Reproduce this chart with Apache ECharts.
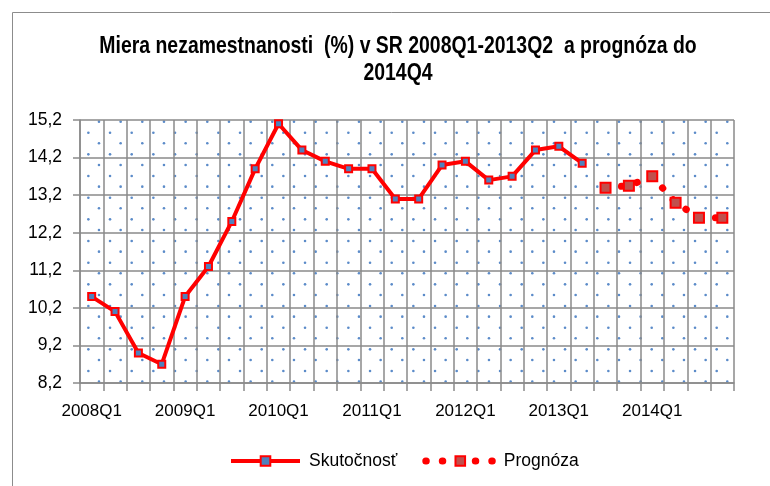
<!DOCTYPE html>
<html>
<head>
<meta charset="utf-8">
<script src="https://cdn.jsdelivr.net/npm/echarts@6/dist/echarts.min.js"></script>
<style>
    html, body {margin: 0; padding: 0; background: #fff;}
    #chart {width: 770px; height: 486px;}
</style>
</head>
<body>
<div id="chart"></div>
<script>
// štvrťroky 2008Q1 - 2014Q4
var quarters = ['2008Q1', '2008Q2', '2008Q3', '2008Q4', '2009Q1', '2009Q2', '2009Q3', '2009Q4',
    '2010Q1', '2010Q2', '2010Q3', '2010Q4', '2011Q1', '2011Q2', '2011Q3', '2011Q4',
    '2012Q1', '2012Q2', '2012Q3', '2012Q4', '2013Q1', '2013Q2', '2013Q3', '2013Q4',
    '2014Q1', '2014Q2', '2014Q3', '2014Q4'];

// skutočnosť 2008Q1 - 2013Q2
var actual = [10.5, 10.1, 9.0, 8.7, 10.5, 11.3, 12.5, 13.9,
    15.1, 14.4, 14.1, 13.9, 13.9, 13.1, 13.1, 14.0,
    14.1, 13.6, 13.7, 14.4, 14.5, 14.05];

// prognóza 2013Q3 - 2014Q4
var forecast = [13.4, 13.45, 13.7, 13.0, 12.6, 12.6];

var yTicks = [8.2, 9.2, 10.2, 11.2, 12.2, 13.2, 14.2, 15.2];

var titleText = 'Miera nezamestnanosti  (%) v SR 2008Q1-2013Q2  a prognóza do\n2014Q4';

var font = "'Liberation Sans Narrow', 'Arial Narrow', 'Liberation Sans', Arial, sans-serif";

var actualData = [], forecastData = [];
var offset = quarters.length - forecast.length;
for (var i = 0; i < quarters.length; i++) {
    actualData.push(i < actual.length ? actual[i] : '-');
    forecastData.push(i >= offset ? forecast[i - offset] : '-');
}

// bodkovaný vzor pozadia
function dotPattern() {
    var c = document.createElement('canvas');
    c.width = 65;
    c.height = 65;
    var ctx = c.getContext('2d');
    var step = 65 / 3;
    ctx.fillStyle = '#5b8bc9';
    for (var a = 0; a < 3; a++) {
        for (var b = 0; b < 3; b++) {
            ctx.beginPath();
            ctx.arc(1.7 + a * step, 2.7 + b * step, 1.3, 0, Math.PI * 2);
            ctx.fill();
            ctx.beginPath();
            ctx.arc(12.3 + a * step, 13.3 + b * step, 1.3, 0, Math.PI * 2);
            ctx.fill();
        }
    }
    return c;
}

(function () {
    var chart = echarts.init(document.getElementById('chart'));

    var option = {
        backgroundColor: '#fff',
        animation: false,
        graphic: [
            {
                type: 'rect',
                shape: {x: 12.5, y: 12.5, width: 800, height: 600},
                style: {fill: null, stroke: '#8c8c8c', lineWidth: 1},
                silent: true
            },
            {
                // nadpis - zúžené písmo
                type: 'text',
                x: 398,
                y: 33,
                scaleX: 0.81,
                style: {
                    text: titleText,
                    fill: '#000',
                    font: 'bold 24px ' + font,
                    lineHeight: 27,
                    align: 'center',
                    verticalAlign: 'top'
                },
                silent: true
            }
        ],
        legend: {
            left: 229,
            top: 452,
            padding: 0,
            itemWidth: 69,
            itemHeight: 12,
            itemGap: 25,
            textStyle: {fontFamily: font, fontSize: 17.5, color: '#000', padding: [0, 0, 0, 4]},
            data: [
                {name: 'Skutočnosť', lineStyle: {width: 4}},
                {name: 'Prognóza', lineStyle: {width: 7, type: [0.5, 16], cap: 'round'}}
            ]
        },
        grid: {
            left: 80,
            top: 120,
            right: 36,
            bottom: 103,
            show: true,
            borderWidth: 0,
            backgroundColor: {image: dotPattern(), repeat: 'repeat'}
        },
        xAxis: {
            type: 'category',
            data: quarters,
            boundaryGap: true,
            axisLine: {lineStyle: {color: '#8a8a8a', width: 1.5}},
            axisTick: {show: true, interval: 0, length: 8, lineStyle: {color: '#8a8a8a', width: 1.5}},
            splitLine: {show: true, interval: 0, lineStyle: {color: '#8a8a8a', width: 1.5}},
            axisLabel: {
                interval: 3,
                margin: 20,
                fontFamily: font,
                fontSize: 17,
                color: '#000'
            }
        },
        yAxis: {
            type: 'value',
            min: 8.2,
            max: 15.2,
            interval: 1,
            axisLine: {show: true, lineStyle: {color: '#8a8a8a', width: 1.5}},
            axisTick: {show: true, length: 7, customValues: yTicks, lineStyle: {color: '#8a8a8a', width: 1.5}},
            splitLine: {show: true, lineStyle: {color: '#8a8a8a', width: 1.5}},
            axisLabel: {
                customValues: yTicks,
                margin: 18,
                fontFamily: font,
                fontSize: 17.5,
                color: '#000',
                formatter: function (v) {
                    return v.toFixed(1).replace('.', ',');
                }
            }
        },
        series: [
            {
                name: 'Skutočnosť',
                type: 'line',
                data: actualData,
                symbol: 'rect',
                symbolSize: 7,
                lineStyle: {color: '#ff0000', width: 4},
                itemStyle: {color: '#4f81bd', borderColor: '#ff0000', borderWidth: 2}
            },
            {
                name: 'Prognóza',
                type: 'line',
                data: forecastData,
                symbol: 'rect',
                symbolSize: 10,
                lineStyle: {color: '#ff0000', width: 7, type: [0.5, 15.5], cap: 'round'},
                itemStyle: {color: '#c0504d', borderColor: '#ff0000', borderWidth: 2}
            }
        ]
    };

    chart.setOption(option);
})();
</script>
</body>
</html>
